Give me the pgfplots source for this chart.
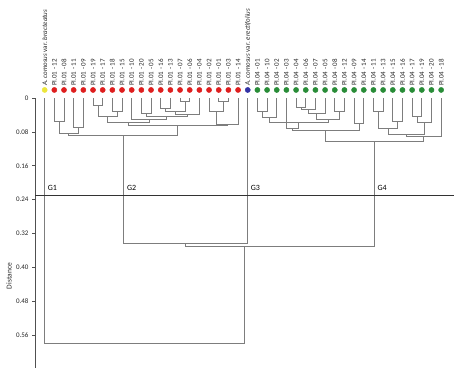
\documentclass[border=0pt]{standalone}
\usepackage{pgfplots}
\pgfplotsset{compat=1.18}
\usepackage{fontspec}
\setmainfont{Carlito}
\definecolor{dgray}{RGB}{125,125,125}
\definecolor{axgray}{RGB}{80,80,80}
\definecolor{cyellow}{RGB}{236,230,60}
\definecolor{cred}{RGB}{222,30,30}
\definecolor{cblue}{RGB}{50,50,165}
\definecolor{cgreen}{RGB}{40,140,55}
\begin{document}
\begin{tikzpicture}
\begin{axis}[
  at={(35pt,5pt)}, anchor=south west,
  scale only axis, width=419pt, height=270pt,
  xmin=-1, xmax=42.33, ymin=0, ymax=0.638,
  y dir=reverse,
  axis x line=none,
  axis y line*=left,
  y axis line style={-, color=axgray, line width=0.6pt},
  ytick={0,0.08,0.16,0.24,0.32,0.40,0.48,0.56},
  yticklabels={0,0.08,0.16,0.24,0.32,0.40,0.48,0.56},
  yticklabel style={font=\fontsize{7}{8}\selectfont, color=black!85},
  /pgf/number format/assume math mode=true,
  tick align=outside, major tick length=3pt,
  tick style={color=axgray, line width=0.5pt},
  clip=false,
  dend/.style={color=dgray, line width=0.7pt, mark=none},
  leaf/.style={only marks, mark=*, mark size=2.6pt, nodes near coords, point meta=explicit symbolic,
    nodes near coords style={font=\fontsize{7}{8}\selectfont, color=black!85, rotate=90, anchor=west, inner ysep=0pt, inner xsep=4pt}},
]
% leaves
\addplot[leaf, color=cyellow] coordinates {(0,-0.019) [\textit{A. comosus} var. \textit{bracteatus}]};
\addplot[leaf, color=cred] coordinates {
(1,-0.019) [PI.01 - 12] (2,-0.019) [PI.01 - 08] (3,-0.019) [PI.01 - 11] (4,-0.019) [PI.01 - 09]
(5,-0.019) [PI.01 - 19] (6,-0.019) [PI.01 - 17] (7,-0.019) [PI.01 - 18] (8,-0.019) [PI.01 - 15]
(9,-0.019) [PI.01 - 10] (10,-0.019) [PI.01 - 20] (11,-0.019) [PI.01 - 05] (12,-0.019) [PI.01 - 16]
(13,-0.019) [PI.01 - 13] (14,-0.019) [PI.01 - 07] (15,-0.019) [PI.01 - 06] (16,-0.019) [PI.01 - 04]
(17,-0.019) [PI.01 - 02] (18,-0.019) [PI.01 - 01] (19,-0.019) [PI.01 - 03] (20,-0.019) [PI.01 - 14]};
\addplot[leaf, color=cblue] coordinates {(21,-0.019) [\textit{A. comosus} var. \textit{erectifolius}]};
\addplot[leaf, color=cgreen] coordinates {
(22,-0.019) [PI.04 - 01] (23,-0.019) [PI.04 - 10] (24,-0.019) [PI.04 - 02] (25,-0.019) [PI.04 - 03]
(26,-0.019) [PI.04 - 04] (27,-0.019) [PI.04 - 06] (28,-0.019) [PI.04 - 07] (29,-0.019) [PI.04 - 05]
(30,-0.019) [PI.04 - 08] (31,-0.019) [PI.04 - 12] (32,-0.019) [PI.04 - 09] (33,-0.019) [PI.04 - 14]
(34,-0.019) [PI.04 - 11] (35,-0.019) [PI.04 - 13] (36,-0.019) [PI.04 - 15] (37,-0.019) [PI.04 - 16]
(38,-0.019) [PI.04 - 17] (39,-0.019) [PI.04 - 19] (40,-0.019) [PI.04 - 20] (41,-0.019) [PI.04 - 18]};
% red group
\addplot[dend] coordinates {(1,0) (1,0.055) (2,0.055) (2,0)};
\addplot[dend] coordinates {(3,0) (3,0.069) (4,0.069) (4,0)};
\addplot[dend] coordinates {(1.5,0.055) (1.5,0.083) (3.5,0.083) (3.5,0.069)};
\addplot[dend] coordinates {(5,0) (5,0.017) (6,0.017) (6,0)};
\addplot[dend] coordinates {(7,0) (7,0.032) (8,0.032) (8,0)};
\addplot[dend] coordinates {(5.5,0.017) (5.5,0.044) (7.5,0.044) (7.5,0.032)};
\addplot[dend] coordinates {(10,0) (10,0.036) (11,0.036) (11,0)};
\addplot[dend] coordinates {(12,0) (12,0.024) (13,0.024) (13,0)};
\addplot[dend] coordinates {(14,0) (14,0.007) (15,0.007) (15,0)};
\addplot[dend] coordinates {(12.5,0.024) (12.5,0.032) (14.5,0.032) (14.5,0.007)};
\addplot[dend] coordinates {(13.5,0.032) (13.5,0.038) (16,0.038) (16,0)};
\addplot[dend] coordinates {(10.5,0.036) (10.5,0.043) (14.75,0.043) (14.75,0.038)};
\addplot[dend] coordinates {(9,0) (9,0.050) (12.625,0.050) (12.625,0.043)};
\addplot[dend] coordinates {(6.5,0.044) (6.5,0.057) (10.81,0.057) (10.81,0.050)};
\addplot[dend] coordinates {(18,0) (18,0.008) (19,0.008) (19,0)};
\addplot[dend] coordinates {(17,0) (17,0.031) (18.5,0.031) (18.5,0.008)};
\addplot[dend] coordinates {(17.75,0.031) (17.75,0.062) (20,0.062) (20,0)};
\addplot[dend] coordinates {(8.66,0.057) (8.66,0.065) (18.875,0.065) (18.875,0.062)};
\addplot[dend] coordinates {(2.5,0.083) (2.5,0.089) (13.77,0.089) (13.77,0.065)};
% green group
\addplot[dend] coordinates {(22,0) (22,0.031) (23,0.031) (23,0)};
\addplot[dend] coordinates {(22.5,0.031) (22.5,0.046) (24,0.046) (24,0)};
\addplot[dend] coordinates {(26,0) (26,0.021) (27,0.021) (27,0)};
\addplot[dend] coordinates {(26.5,0.021) (26.5,0.027) (28,0.027) (28,0)};
\addplot[dend] coordinates {(27.25,0.027) (27.25,0.036) (29,0.036) (29,0)};
\addplot[dend] coordinates {(30,0) (30,0.031) (31,0.031) (31,0)};
\addplot[dend] coordinates {(28.125,0.036) (28.125,0.051) (30.5,0.051) (30.5,0.031)};
\addplot[dend] coordinates {(23.25,0.046) (23.25,0.058) (29.31,0.058) (29.31,0.051)};
\addplot[dend] coordinates {(25,0) (25,0.072) (26.28,0.072) (26.28,0.058)};
\addplot[dend] coordinates {(32,0) (32,0.061) (33,0.061) (33,0)};
\addplot[dend] coordinates {(25.64,0.072) (25.64,0.076) (32.5,0.076) (32.5,0.061)};
\addplot[dend] coordinates {(34,0) (34,0.031) (35,0.031) (35,0)};
\addplot[dend] coordinates {(36,0) (36,0.056) (37,0.056) (37,0)};
\addplot[dend] coordinates {(34.5,0.031) (34.5,0.071) (36.5,0.071) (36.5,0.056)};
\addplot[dend] coordinates {(38,0) (38,0.043) (39,0.043) (39,0)};
\addplot[dend] coordinates {(38.5,0.043) (38.5,0.057) (40,0.057) (40,0)};
\addplot[dend] coordinates {(35.5,0.071) (35.5,0.086) (39.25,0.086) (39.25,0.057)};
\addplot[dend] coordinates {(37.375,0.086) (37.375,0.091) (41,0.091) (41,0)};
\addplot[dend] coordinates {(29.07,0.076) (29.07,0.102) (39.19,0.102) (39.19,0.091)};
% upper joins
\addplot[dend] coordinates {(8.13,0.089) (8.13,0.344) (21,0.344) (21,0)};
\addplot[dend] coordinates {(14.57,0.344) (14.57,0.351) (34.1,0.351) (34.1,0.102)};
\addplot[dend] coordinates {(0,0) (0,0.580) (20.64,0.580) (20.64,0.351)};
% cut line
\addplot[color=black!80, line width=0.8pt, mark=none] coordinates {(-1,0.229) (42.33,0.229)};
\node[anchor=west, font=\fontsize{8}{9}\selectfont, inner sep=0pt] at (axis cs:0.3,0.212) {G1};
\node[anchor=west, font=\fontsize{8}{9}\selectfont, inner sep=0pt] at (axis cs:8.5,0.212) {G2};
\node[anchor=west, font=\fontsize{8}{9}\selectfont, inner sep=0pt] at (axis cs:21.3,0.212) {G3};
\node[anchor=west, font=\fontsize{8}{9}\selectfont, inner sep=0pt] at (axis cs:34.4,0.212) {G4};
\end{axis}
\node[rotate=90, font=\fontsize{7.5}{9}\selectfont, color=black!85] at (9pt,97pt) {Distance};
\pgfresetboundingbox
\path[use as bounding box] (0,0) rectangle (454pt,373pt);
\end{tikzpicture}
\end{document}
